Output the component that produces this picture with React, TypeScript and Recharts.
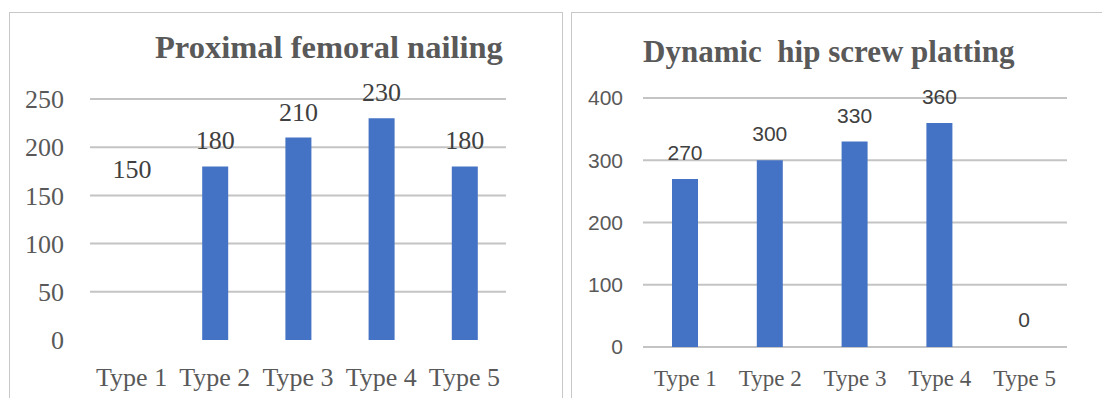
import React from 'react'
import { BarChart, Bar, XAxis, YAxis, CartesianGrid, LabelList, Cell } from 'recharts'

const categories = ['Type 1', 'Type 2', 'Type 3', 'Type 4', 'Type 5']
const pfnValues = [150, 180, 210, 230, 180]
const dhsValues = [270, 300, 330, 360, 0]
const pfnTicks = [0, 50, 100, 150, 200, 250]
const dhsTicks = [0, 100, 200, 300, 400]

const BLUE = '#4472c4'
const GRID = '#c4c4c4'
const TEXT = '#595959'
const SERIF = '"Liberation Serif", "Times New Roman", serif'
const SANS = '"Liberation Sans", Arial, sans-serif'

const pfnData = categories.map((name, i) => ({ name, value: pfnValues[i] }))
const dhsData = categories.map((name, i) => ({ name, value: dhsValues[i] }))

const topLabel = (offset: number, size: number, family: string) => (p: any) => {
  const { x, y, width, value } = p
  return (
    <text x={Number(x) + Number(width) / 2} y={Number(y) - offset} textAnchor="middle" fill="#404040" fontSize={size} fontFamily={family}>
      {value}
    </text>
  )
}

export default function App() {
  return (
    <div style={{ position: 'relative', width: 1102, height: 398, background: '#fff', overflow: 'hidden' }}>
      <style>{'body{margin:0}'}</style>

      {/* panel frames */}
      <div style={{ position: 'absolute', left: 9, top: 12, width: 554, height: 400, border: '1px solid #c8c8c8', boxSizing: 'border-box' }} />
      <div style={{ position: 'absolute', left: 571, top: 12, width: 560, height: 400, border: '1px solid #c8c8c8', boxSizing: 'border-box' }} />

      {/* left chart */}
      <div style={{ position: 'absolute', left: 155, top: 28, fontFamily: SERIF, fontWeight: 700, fontSize: 32.5, color: TEXT, whiteSpace: 'pre', lineHeight: '38px' }}>
        Proximal femoral nailing
      </div>
      <div style={{ position: 'absolute', left: 0, top: 0 }}>
        <BarChart width={560} height={398} data={pfnData} margin={{ top: 99, right: 54, bottom: 18, left: 30 }} barSize={26}>
          <CartesianGrid vertical={false} stroke={GRID} strokeWidth={2} horizontalValues={[50, 100, 150, 200, 250]} />
          <XAxis dataKey="name" axisLine={false} tickLine={false} interval={0} height={40} tickMargin={22}
            tick={{ fill: TEXT, fontSize: 26, fontFamily: SERIF }} />
          <YAxis domain={[0, 250]} ticks={pfnTicks} axisLine={false} tickLine={false} width={60} tickMargin={20}
            tick={{ fill: TEXT, fontSize: 26, fontFamily: SERIF }} />
          <Bar dataKey="value" fill={BLUE} isAnimationActive={false}>
            {pfnData.map((d, i) => (
              <Cell key={i} fill={i === 0 ? 'transparent' : BLUE} />
            ))}
            <LabelList dataKey="value" content={topLabel(17, 26, SERIF)} />
          </Bar>
        </BarChart>
      </div>

      {/* right chart */}
      <div style={{ position: 'absolute', left: 643, top: 33, fontFamily: SERIF, fontWeight: 700, fontSize: 31, color: TEXT, whiteSpace: 'pre', lineHeight: '37px' }}>
        Dynamic  hip screw platting
      </div>
      <div style={{ position: 'absolute', left: 560, top: 0 }}>
        <BarChart width={542} height={398} data={dhsData} margin={{ top: 98, right: 35, bottom: 16, left: 23 }} barSize={26}>
          <CartesianGrid vertical={false} stroke={GRID} strokeWidth={2} horizontalValues={dhsTicks} />
          <XAxis dataKey="name" axisLine={false} tickLine={false} interval={0} height={35} tickMargin={17}
            tick={{ fill: TEXT, fontSize: 23, fontFamily: SERIF }} />
          <YAxis domain={[0, 400]} ticks={dhsTicks} axisLine={false} tickLine={false} width={60} tickMargin={14}
            tick={{ fill: TEXT, fontSize: 21, fontFamily: SANS }} />
          <Bar dataKey="value" fill={BLUE} minPointSize={1} isAnimationActive={false}>
            {dhsData.map((d, i) => (
              <Cell key={i} fill={d.value === 0 ? 'transparent' : BLUE} />
            ))}
            <LabelList dataKey="value" content={topLabel(19, 21, SANS)} />
          </Bar>
        </BarChart>
      </div>
    </div>
  )
}
